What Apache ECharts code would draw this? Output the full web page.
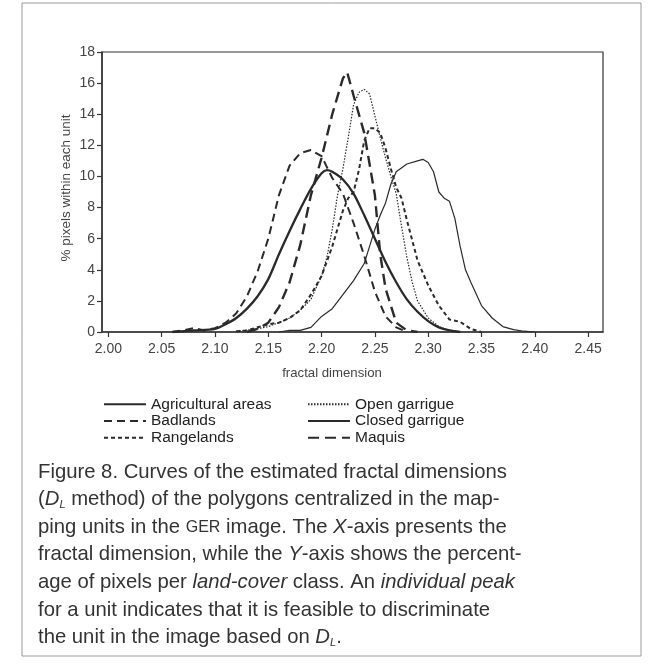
<!DOCTYPE html>
<html><head><meta charset="utf-8">
<script src="https://cdn.jsdelivr.net/npm/echarts@6/dist/echarts.min.js"></script>
<style>html,body{margin:0;padding:0;background:#fff}#c{width:656px;height:665px}</style>
</head><body><div id="c"></div>
<script>
// ---- data ----
const xTicks = [2.00,2.05,2.10,2.15,2.20,2.25,2.30,2.35,2.40,2.45];
const agricultural = [[2.06,0],[2.08,0.1],[2.10,0.2],[2.11,0.5],[2.12,0.9],[2.13,1.5],[2.14,2.3],[2.15,3.4],[2.16,5.0],[2.17,6.5],[2.18,7.9],[2.19,9.2],[2.20,10.2],[2.205,10.4],[2.21,10.3],[2.22,9.8],[2.23,8.9],[2.24,7.5],[2.25,6.0],[2.26,4.5],[2.27,3.2],[2.28,2.1],[2.29,1.3],[2.30,0.7],[2.31,0.3],[2.32,0.1],[2.33,0]];
const badlands = [[2.06,0],[2.07,0.1],[2.08,0.25],[2.09,0.1],[2.10,0.25],[2.11,0.6],[2.12,1.2],[2.13,2.3],[2.14,3.9],[2.15,6.0],[2.16,8.8],[2.17,10.7],[2.18,11.5],[2.19,11.7],[2.20,11.3],[2.205,10.6],[2.21,9.9],[2.22,8.9],[2.23,7.0],[2.24,4.9],[2.25,2.6],[2.26,1.0],[2.27,0.3],[2.28,0]];
const rangelands = [[2.12,0.05],[2.13,0.1],[2.14,0.3],[2.15,0.5],[2.16,0.6],[2.17,0.9],[2.18,1.4],[2.19,2.4],[2.20,3.6],[2.21,5.5],[2.22,7.8],[2.225,8.6],[2.23,9.0],[2.235,10.4],[2.24,12.3],[2.245,13.1],[2.25,13.1],[2.255,12.8],[2.26,11.8],[2.265,10.5],[2.27,9.3],[2.275,8.6],[2.28,7.2],[2.29,4.6],[2.30,3.0],[2.31,1.7],[2.32,0.8],[2.33,0.65],[2.34,0.2],[2.35,0]];
const openGarrigue = [[2.12,0.05],[2.14,0.2],[2.15,0.35],[2.16,0.6],[2.17,0.9],[2.18,1.4],[2.19,2.1],[2.20,3.6],[2.205,4.8],[2.21,6.6],[2.215,8.8],[2.22,10.5],[2.225,12.5],[2.23,14.6],[2.235,15.4],[2.24,15.6],[2.245,15.3],[2.25,13.9],[2.255,12.5],[2.26,11.2],[2.265,10.0],[2.27,8.9],[2.275,6.8],[2.28,4.8],[2.285,3.2],[2.29,2.0],[2.30,0.9],[2.31,0.35],[2.32,0.1],[2.33,0]];
const closedGarrigue = [[2.16,0],[2.17,0.1],[2.18,0.1],[2.19,0.3],[2.20,1.0],[2.21,1.5],[2.22,2.4],[2.23,3.3],[2.24,4.4],[2.245,5.5],[2.25,6.6],[2.255,7.5],[2.26,8.3],[2.265,9.5],[2.27,10.3],[2.28,10.8],[2.29,11.0],[2.295,11.1],[2.30,10.9],[2.305,10.3],[2.31,9.0],[2.315,8.6],[2.32,8.4],[2.325,7.3],[2.33,5.5],[2.335,4.0],[2.34,3.2],[2.35,1.7],[2.36,0.9],[2.37,0.35],[2.38,0.15],[2.39,0.05],[2.40,0]];
const maquis = [[2.13,0],[2.14,0.2],[2.15,0.6],[2.16,1.6],[2.17,3.2],[2.18,5.6],[2.19,8.8],[2.20,11.2],[2.21,14.0],[2.22,16.3],[2.224,16.7],[2.23,15.2],[2.24,12.8],[2.25,8.8],[2.255,5.0],[2.26,2.8],[2.27,0.6],[2.28,0.1],[2.29,0]];
const captionLines = [
  [['Figure 8. Curves of the estimated fractal dimensions','n']],
  [['(','n'],['D','i'],['L','sub'],[' method) of the polygons centralized in the map-','n']],
  [['ping units in the ','n'],['GER','sc'],[' image. The ','n'],['X','i'],['-axis presents the','n']],
  [['fractal dimension, while the ','n'],['Y','i'],['-axis shows the percent-','n']],
  [['age of pixels per ','n'],['land-cover','i'],[' class. An ','n'],['individual peak','i']],
  [['for a unit indicates that it is feasible to discriminate','n']],
  [['the unit in the image based on ','n'],['D','i'],['L','sub'],['.','n']]
];

const FONT = 'Liberation Sans';
const CAPF = 'Liberation Sans';
const ink = '#2a2a2a';

function ser(name, data, lw, type, smooth) {
  return {name, type:'line', data, symbol:'none', smooth: smooth||0,
    lineStyle:{color:ink, width:lw, type:type}, itemStyle:{color:ink}, z:3};
}

const esc = s => s.replace(/[{}|]/g, '');
const graphics = [];
graphics.push({type:'rect', shape:{x:22, y:3, width:619, height:653}, style:{fill:'none', stroke:'#9a9a9a', lineWidth:1}, silent:true, z:-1});
graphics.push({type:'text', x:66, y:188, rotation:Math.PI/2, style:{text:'% pixels within each unit', font:'13.5px "'+FONT+'"', fill:'#444', align:'center', verticalAlign:'middle'}});
graphics.push({type:'text', x:332, y:373, style:{text:'fractal dimension', font:'13.2px "'+FONT+'"', fill:'#444', align:'center', verticalAlign:'middle'}});
captionLines.forEach((parts, i) => {
  const txt = parts.map(p => '{' + p[1] + '|' + esc(p[0]) + '}').join('');
  graphics.push({type:'text', x:38, y:472 + i*27.6, style:{
    text: txt, fill:'#333', verticalAlign:'middle', align:'left',
    rich:{
      n:{fontFamily:CAPF, fontSize:20.3, fill:'#333'},
      i:{fontFamily:CAPF, fontSize:20.3, fontStyle:'italic', fill:'#333'},
      sub:{fontFamily:CAPF, fontSize:11, fontStyle:'italic', fill:'#333', padding:[11,0,0,0]},
      sc:{fontFamily:CAPF, fontSize:16, fill:'#333'}
    }}});
});

const legendCommon = {orient:'vertical', itemWidth:42, itemHeight:16.7, itemGap:0,
  itemStyle:{opacity:0},
  textStyle:{color:'#222', fontSize:15.5, fontFamily:FONT, lineHeight:16.7}};

const chart = echarts.init(document.getElementById('c'), null, {renderer:'canvas'});
chart.setOption({
  backgroundColor:'#fff',
  animation:false,
  grid:{left:102, top:52, width:501, height:280, show:true, borderColor:'#333', borderWidth:1.2, backgroundColor:'transparent'},
  xAxis:{type:'value', min:1.994, max:2.464,
    axisLine:{lineStyle:{color:'#333', width:1.5}},
    axisTick:{show:true, length:5, customValues:xTicks, lineStyle:{color:'#333', width:1.2}},
    axisLabel:{customValues:xTicks, formatter:v=>v.toFixed(2), color:'#444', fontSize:14, fontFamily:FONT, margin:10},
    splitLine:{show:false}},
  yAxis:{type:'value', min:0, max:18, interval:2,
    axisLine:{show:true, lineStyle:{color:'#333', width:1.5}},
    axisTick:{show:true, length:5, lineStyle:{color:'#333', width:1.2}},
    axisLabel:{color:'#444', fontSize:14, fontFamily:FONT, margin:7},
    splitLine:{show:false}},
  legend:[
    Object.assign({left:98, top:391, data:['Agricultural areas','Badlands','Rangelands']}, legendCommon),
    Object.assign({left:302, top:391, data:['Open garrigue','Closed garrigue','Maquis']}, legendCommon)
  ],
  series:[
    ser('Agricultural areas', agricultural, 2.3, 'solid', 0.3),
    ser('Badlands', badlands, 2.0, [8,5]),
    ser('Rangelands', rangelands, 2.0, [4,3]),
    ser('Open garrigue', openGarrigue, 1.2, [1.5,1.5]),
    ser('Closed garrigue', closedGarrigue, 1.2, 'solid'),
    ser('Maquis', maquis, 2.4, [11,6])
  ],
  graphic: graphics
});
</script></body></html>
